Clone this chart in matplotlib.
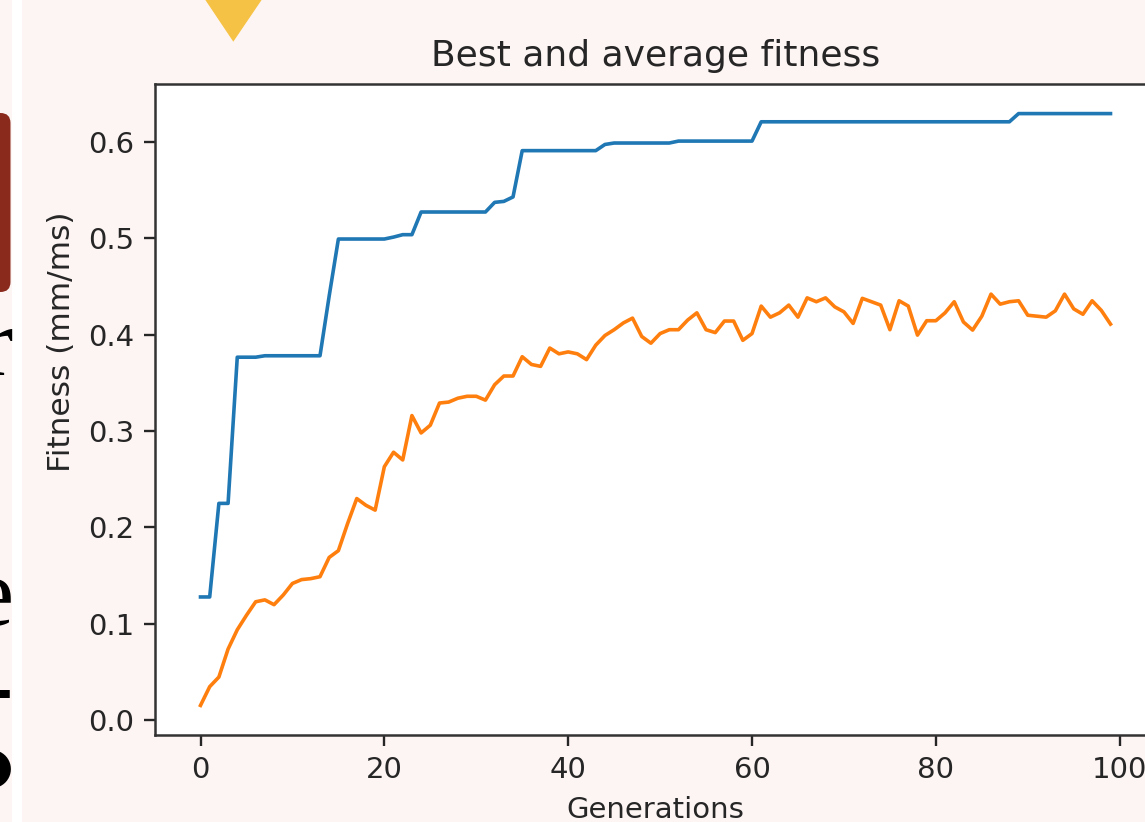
import matplotlib
matplotlib.use("Agg")
import matplotlib.pyplot as plt
from matplotlib.patches import FancyBboxPatch, Polygon, Rectangle

# Fitness per generation of the GA run
generations = list(range(100))

best_fitness = [
    0.128, 0.128, 0.225, 0.225, 0.3765, 0.3765, 0.3765, 0.378, 0.378, 0.378,
    0.378, 0.378, 0.378, 0.378, 0.44, 0.499, 0.499, 0.499, 0.499, 0.499,
    0.499, 0.501, 0.5035, 0.5035, 0.527, 0.527, 0.527, 0.527, 0.527, 0.527,
    0.527, 0.527, 0.537, 0.538, 0.5426, 0.5906, 0.5906, 0.5906, 0.5906, 0.5906,
    0.5906, 0.5906, 0.5906, 0.5906, 0.597, 0.5985, 0.5985, 0.5985, 0.5985, 0.5985,
    0.5985, 0.5985, 0.6005, 0.6005, 0.6005, 0.6005, 0.6005, 0.6005, 0.6005, 0.6005,
    0.6005, 0.6205, 0.6205, 0.6205, 0.6205, 0.6205, 0.6205, 0.6205, 0.6205, 0.6205,
    0.6205, 0.6205, 0.6205, 0.6205, 0.6205, 0.6205, 0.6205, 0.6205, 0.6205, 0.6205,
    0.6205, 0.6205, 0.6205, 0.6205, 0.6205, 0.6205, 0.6205, 0.6205, 0.6205, 0.629,
    0.629, 0.629, 0.629, 0.629, 0.629, 0.629, 0.629, 0.629, 0.629, 0.629,
]

avg_fitness = [
    0.0156, 0.035, 0.045, 0.074, 0.094, 0.109, 0.123, 0.125, 0.120, 0.130,
    0.142, 0.146, 0.147, 0.149, 0.169, 0.176, 0.204, 0.230, 0.223, 0.218,
    0.263, 0.278, 0.270, 0.316, 0.298, 0.306, 0.329, 0.330, 0.334, 0.336,
    0.336, 0.332, 0.348, 0.357, 0.357, 0.377, 0.369, 0.367, 0.386, 0.380,
    0.382, 0.380, 0.374, 0.389, 0.399, 0.405, 0.412, 0.417, 0.398, 0.391,
    0.401, 0.405, 0.405, 0.415, 0.4225, 0.405, 0.402, 0.414, 0.414, 0.394,
    0.401, 0.4295, 0.418, 0.4225, 0.4305, 0.418, 0.438, 0.434, 0.438, 0.4287,
    0.4235, 0.4115, 0.4375, 0.434, 0.4305, 0.405, 0.435, 0.4295, 0.3994, 0.4143,
    0.4143, 0.4225, 0.434, 0.413, 0.4046, 0.419, 0.4419, 0.4315, 0.434, 0.435,
    0.420, 0.419, 0.418, 0.4246, 0.4419, 0.4266, 0.421, 0.435, 0.425, 0.4108,
]

x_ticks = [0, 20, 40, 60, 80, 100]
y_ticks = [0.0, 0.1, 0.2, 0.3, 0.4, 0.5, 0.6]

W, H = 1145, 822
BG = "#fdf5f3"
INK = "#262626"


def px(x, y):
    # pixel position (from top-left) -> inches for dpi_scale_trans
    return x / 100.0, (H - y) / 100.0


fig = plt.figure(figsize=(W / 100, H / 100), dpi=100, facecolor=BG)

# slide decorations around the plot
fig.text(13 / W, (H - 375) / H, "r", ha="right", va="baseline", fontsize=70,
         family="Liberation Serif", color="black")
fig.text(13 / W, (H - 625) / H, "e", ha="right", va="baseline", fontsize=70,
         family="Liberation Serif", color="black")
fig.text(13 / W, (H - 693) / H, "-", ha="right", va="center", fontsize=70,
         family="Liberation Serif", fontweight="bold", color="black")
fig.text(13 / W, (H - 768) / H, "\u25cf", ha="right", va="center", fontsize=36,
         family="DejaVu Sans", color="black")

brown = FancyBboxPatch(px(-30, 292), 0.405, 1.79,
                       boxstyle="round,pad=0,rounding_size=0.1",
                       transform=fig.dpi_scale_trans, facecolor="#8a2a1c",
                       edgecolor="none", zorder=2)
fig.patches.append(brown)

stripe = Rectangle(px(12, 822), 0.10, 8.22, transform=fig.dpi_scale_trans,
                   facecolor="white", edgecolor="none", zorder=3)
fig.patches.append(stripe)

tri = Polygon([px(200, -8), px(267, -8), px(233.3, 41.7)], closed=True,
              transform=fig.dpi_scale_trans, facecolor="#f6c245",
              edgecolor="none", zorder=2)
fig.patches.append(tri)

# main plot
ax = fig.add_axes([155 / W, (H - 735) / H, (1156 - 155) / W, (735 - 84) / H])
ax.set_facecolor("white")

ax.plot(generations, best_fitness, color="#1f77b4", linewidth=2.6)
ax.plot(generations, avg_fitness, color="#ff7f0e", linewidth=2.6)

ax.set_xticks(x_ticks)
ax.set_yticks(y_ticks)
ax.set_yticklabels(["%.1f" % v for v in y_ticks])
ax.tick_params(axis="both", direction="out", length=7.6, width=1.7,
               pad=7.6, labelsize=21, colors=INK)
for sp in ax.spines.values():
    sp.set_linewidth(1.8)
    sp.set_color("#333333")

ax.set_title("Best and average fitness", fontsize=26, pad=13, color=INK)
ax.set_xlabel("Generations", fontsize=21, labelpad=8.6, color=INK)
ax.set_ylabel("Fitness (mm/ms)", fontsize=22.5, labelpad=8.6, color=INK)
ax.yaxis.label.set_y(0.604)

fig.savefig("out.png", dpi=100, facecolor=BG)
